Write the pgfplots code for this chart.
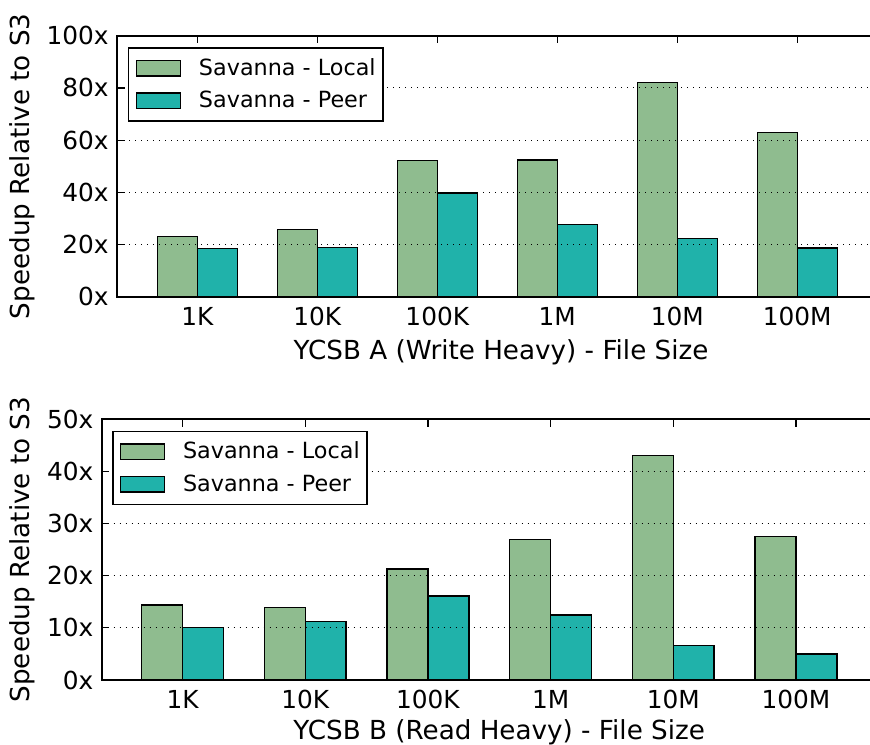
\documentclass[border=0pt]{standalone}
\usepackage{pgfplots}
\pgfplotsset{compat=1.18}
\usepackage{fontspec}
\setmainfont{DejaVu Sans}
\definecolor{dsg}{HTML}{8FBC8F}
\definecolor{lsg}{HTML}{20B2AA}
\pgfplotsset{
 mystyle/.style={
  scale only axis, height=130.5pt,
  ymin=0, enlargelimits=false,
  xtick={0,...,5}, xticklabels={1K,10K,100K,1M,10M,100M},
  ybar, bar width=0.3333,
  axis on top,
  ymajorgrids, grid style={black, line width=0.5pt, dash pattern=on 0.6pt off 2.4pt},
  axis line style={line width=0.9pt},
  tick style={black, line width=0.6pt}, major tick length=3.8pt, tick align=inside,
  tick label style={font=\fontsize{12.4}{14}\selectfont},
  xticklabel style={inner sep=0pt, anchor=north, yshift=-5pt},
  yticklabel style={inner sep=0pt, anchor=east, xshift=-4pt},
  label style={font=\fontsize{13.1}{15}\selectfont},
  legend style={draw=black, line width=0.9pt, font=\fontsize{11.15}{13}\selectfont, anchor=north west, inner xsep=3.5pt, inner ysep=5.2pt, nodes={inner sep=0pt}, row sep=6.35pt, column sep=9pt},
  legend cell align=left,
  legend image code/.code={\draw[#1] (0pt,-3.85pt) rectangle (22pt,3.95pt);},
  every axis plot/.append style={draw=black, line width=0.7pt},
 }
}
\begin{document}
\begin{tikzpicture}
\begin{axis}[mystyle, at={(58.5pt,-148.35pt)}, anchor=south west, width=384pt,
  xmin=-0.669, xmax=5.731, ymax=100,
  ytick={0,20,...,100}, yticklabels={0x,20x,40x,60x,80x,100x},
  xlabel={YCSB A (Write Heavy) - File Size}, ylabel={Speedup Relative to S3},
  xlabel style={at={(axis description cs:0.5,-0.212)}, anchor=center},
  ylabel style={at={(axis description cs:-0.1237,0.5)}, anchor=center},
  legend style={at={(0.0139,0.956)}}]
\addplot[fill=dsg, bar shift=-0.16667] coordinates {(0,23.0) (1,25.8) (2,52.1) (3,52.4) (4,82.0) (5,63.0)};
\addplot[fill=lsg, bar shift=0.16667] coordinates {(0,18.4) (1,18.9) (2,39.7) (3,27.6) (4,22.2) (5,18.7)};
\legend{Savanna - Local, Savanna - Peer}
\end{axis}
\begin{axis}[mystyle, at={(50.85pt,-340pt)}, anchor=south west, width=397.4pt,
  xmin=-0.660, xmax=5.82, ymax=50,
  ytick={0,10,...,50}, yticklabels={0x,10x,20x,30x,40x,50x},
  xlabel={YCSB B (Read Heavy) - File Size}, ylabel={Speedup Relative to S3},
  xlabel style={at={(axis description cs:0.5,-0.200)}, anchor=center},
  ylabel style={at={(axis description cs:-0.1003,0.5)}, anchor=center},
  legend style={at={(0.0126,0.956)}}]
\addplot[fill=dsg, bar shift=-0.16667] coordinates {(0,14.4) (1,13.85) (2,21.3) (3,26.9) (4,43.0) (5,27.45)};
\addplot[fill=lsg, bar shift=0.16667] coordinates {(0,10.1) (1,11.2) (2,16.1) (3,12.45) (4,6.6) (5,5.0)};
\legend{Savanna - Local, Savanna - Peer}
\end{axis}
\pgfresetboundingbox
\useasboundingbox (0,0) rectangle (435pt,-372pt);
\end{tikzpicture}
\end{document}
